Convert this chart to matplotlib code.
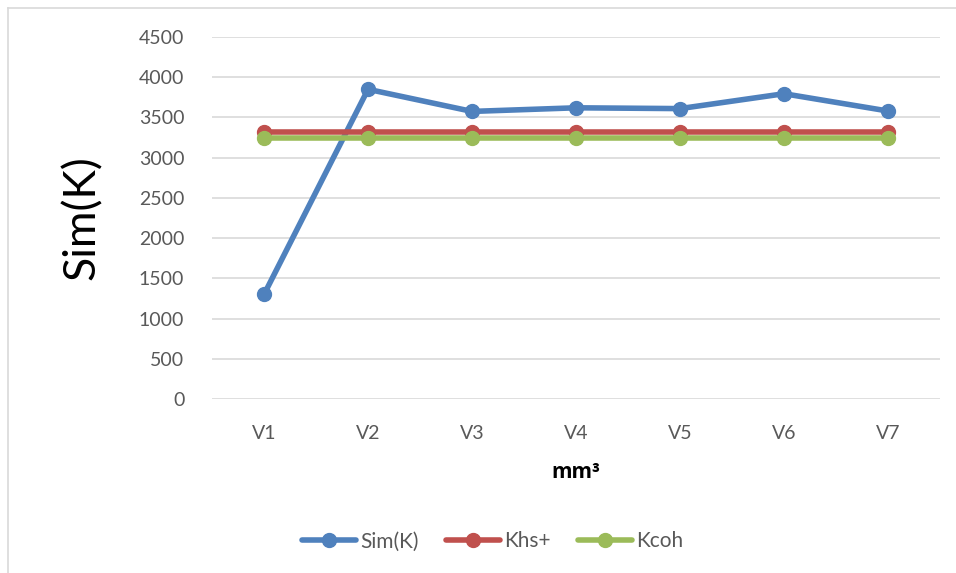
import matplotlib.pyplot as plt
from matplotlib.lines import Line2D

plt.rcParams["font.family"] = ["Lato", "DejaVu Sans"]

# ---------------------------- DATA -------------------------------------
categories = ["V1", "V2", "V3", "V4", "V5", "V6", "V7"]
sim_k      = [1300, 3850, 3575, 3620, 3610, 3795, 3580]
khs_plus   = [3320, 3320, 3320, 3320, 3320, 3320, 3320]
kcoh       = [3245, 3245, 3245, 3245, 3245, 3245, 3245]
y_ticks    = [0, 500, 1000, 1500, 2000, 2500, 3000, 3500, 4000, 4500]

series = [("Sim(K)", sim_k, "#4f81bd"),
          ("Khs+",   khs_plus, "#c0504d"),
          ("Kcoh",   kcoh, "#9bbb59")]

# ---------------------------- PLOT -------------------------------------
fig = plt.figure(figsize=(9.56, 5.73), dpi=100)
ax = fig.add_axes([0.2218, 0.3037, 0.7615, 0.6317])

x = range(len(categories))
for name, vals, col in series:
    ax.plot(x, vals, color=col, lw=4, marker="o", ms=10,
            solid_capstyle="round", label=name)

ax.set_xlim(-0.5, len(categories) - 0.5)
ax.set_ylim(0, 4500)
ax.set_yticks(y_ticks)
ax.set_xticks(list(x))
ax.set_xticklabels(categories)
ax.grid(axis="y", color="#d9d9d9", lw=1.2)
ax.set_axisbelow(True)
for s in ax.spines.values():
    s.set_visible(False)
ax.tick_params(length=0, labelsize=14, colors="#595959", pad=20)
ax.tick_params(axis="x", pad=19)

ax.set_ylabel("Sim(K)", fontsize=32, labelpad=26, color="black")
ax.set_xlabel("mm³", fontsize=15, fontweight="bold", labelpad=14,
              family=["Open Sans", "DejaVu Sans"])

ax.legend(loc="center", bbox_to_anchor=(0.515, 0.055), bbox_transform=fig.transFigure,
          ncol=3, frameon=False, fontsize=15, handlelength=2.6,
          columnspacing=1.3, handletextpad=0.2, labelcolor="#595959")

# chart frame (left and top edges)
fig.add_artist(Line2D([8/956, 8/956], [0, 1 - 8/573], color="#d9d9d9", lw=1.2,
                      transform=fig.transFigure))
fig.add_artist(Line2D([8/956, 1], [1 - 8/573, 1 - 8/573], color="#d9d9d9", lw=1.2,
                      transform=fig.transFigure))

fig.savefig("out.png", dpi=100)
